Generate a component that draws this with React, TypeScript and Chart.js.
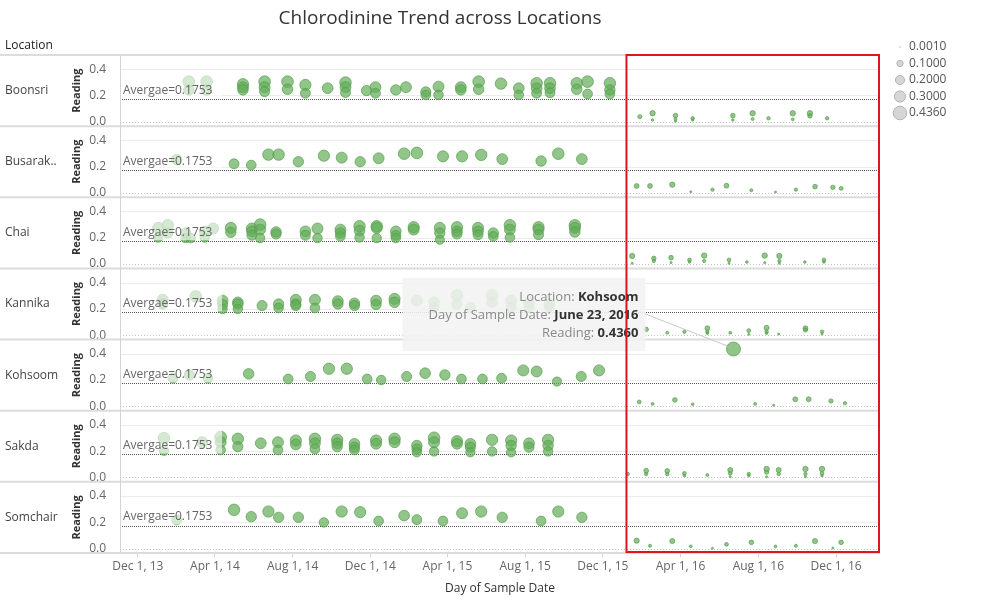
import React, { useEffect, useRef } from 'react';
import { Chart, registerables } from 'chart.js';

Chart.register(...registerables);

const FONT = "'Open Sans', 'Noto Sans', 'DejaVu Sans', sans-serif";

const chartTitle = 'Chlorodinine Trend across Locations';
const locations = ['Boonsri', 'Busarak..', 'Chai', 'Kannika', 'Kohsoom', 'Sakda', 'Somchair'];

const boonsriDates = ['2014-02-19', '2014-03-19', '2014-05-15', '2014-06-18', '2014-07-24', '2014-08-21', '2014-09-25', '2014-10-23', '2014-11-25', '2014-12-09', '2015-01-10', '2015-01-26', '2015-02-26', '2015-03-18', '2015-04-22', '2015-05-20', '2015-06-24', '2015-07-22', '2015-08-19', '2015-09-09', '2015-10-21', '2015-11-07', '2015-12-12', '2016-01-28', '2016-02-17', '2016-03-24', '2016-04-20', '2016-06-22', '2016-07-23', '2016-08-17', '2016-09-24', '2016-10-21', '2016-11-17'];
const boonsriReadings = [[0.305, 0.242], [0.305, 0.24], [0.285, 0.262, 0.242], [0.305, 0.263, 0.229], [0.305, 0.247], [0.28, 0.217], [0.255], [0.298, 0.263, 0.222], [0.237], [0.263, 0.217], [0.242], [0.263], [0.227, 0.204], [0.267, 0.204], [0.263, 0.242], [0.305, 0.247], [0.29], [0.255, 0.204], [0.293, 0.255, 0.217], [0.293, 0.255, 0.22], [0.293, 0.247], [0.305, 0.211], [0.293, 0.242, 0.211], [0.038], [0.064, 0.013], [0.046, 0.018, 0.003], [0.026, 0.013], [0.046, 0.013], [0.064, 0.02], [0.026], [0.064, 0.018], [0.064, 0.044], [0.026]];

const busarakDates = ['2014-01-31', '2014-05-01', '2014-05-28', '2014-06-24', '2014-07-10', '2014-08-10', '2014-09-19', '2014-10-17', '2014-11-15', '2014-12-14', '2015-01-23', '2015-02-12', '2015-03-25', '2015-04-24', '2015-05-24', '2015-06-26', '2015-08-26', '2015-09-22', '2015-10-29', '2016-01-23', '2016-02-13', '2016-03-19', '2016-04-17', '2016-05-21', '2016-06-12', '2016-07-21', '2016-08-28', '2016-09-29', '2016-10-29', '2016-11-26', '2016-12-09'];
const busarakReadings = [[0.253], [0.221], [0.211], [0.291], [0.291], [0.237], [0.283], [0.268], [0.237], [0.263], [0.298], [0.304], [0.278], [0.278], [0.289], [0.257], [0.242], [0.298], [0.257], [0.052], [0.052], [0.062], [0.008], [0.024], [0.054], [0.019], [0.006], [0.024], [0.047], [0.042], [0.034]];

const chaiDates = ['2014-01-02', '2014-01-17', '2014-02-14', '2014-02-22', '2014-03-16', '2014-03-29', '2014-04-26', '2014-05-29', '2014-06-11', '2014-07-06', '2014-08-21', '2014-09-09', '2014-10-15', '2014-11-14', '2014-12-11', '2015-01-10', '2015-02-07', '2015-03-20', '2015-04-16', '2015-05-19', '2015-06-12', '2015-07-08', '2015-08-22', '2015-10-18', '2016-01-16', '2016-02-19', '2016-03-17', '2016-04-15', '2016-05-08', '2016-06-16', '2016-07-14', '2016-08-11', '2016-09-03', '2016-10-13', '2016-11-12'];
const chaiReadings = [[0.275, 0.202], [0.295, 0.236], [0.236, 0.197], [0.197], [0.249, 0.202], [0.27], [0.275, 0.241], [0.27, 0.249, 0.218], [0.3, 0.262, 0.197], [0.244, 0.228], [0.249, 0.218], [0.27, 0.197], [0.262, 0.236, 0.21], [0.288, 0.254, 0.202], [0.288, 0.275, 0.197], [0.249, 0.218, 0.197], [0.28, 0.262], [0.275, 0.236, 0.184], [0.28, 0.249, 0.228], [0.275, 0.249, 0.223], [0.236, 0.21], [0.295, 0.262, 0.202], [0.28, 0.262, 0.223], [0.295, 0.275, 0.244], [0.061, 0.005], [0.043, 0.023], [0.048, 0.01], [0.031, 0.015], [0.064, 0.023], [0.031, 0.005], [0.015], [0.064, 0.01], [0.061, 0.023, 0.005], [0.015], [0.031, 0.015]];

const kannikaDates = ['2014-01-09', '2014-03-02', '2014-04-13', '2014-05-07', '2014-06-14', '2014-07-10', '2014-08-06', '2014-09-05', '2014-10-11', '2014-11-06', '2014-12-10', '2015-01-08', '2015-02-12', '2015-03-11', '2015-04-16', '2015-05-07', '2015-06-10', '2015-07-10', '2015-08-07', '2015-09-08', '2016-02-07', '2016-03-11', '2016-04-07', '2016-05-13', '2016-06-18', '2016-07-17', '2016-08-14', '2016-09-02', '2016-10-14', '2016-11-09'];
const kannikaReadings = [[0.269, 0.237], [0.295], [0.263, 0.233, 0.199], [0.25, 0.237, 0.199], [0.225], [0.237, 0.207], [0.269, 0.237, 0.225], [0.269, 0.207], [0.259, 0.237], [0.243, 0.225], [0.263, 0.233], [0.276, 0.25], [0.263], [0.25, 0.212], [0.302, 0.237], [0.212], [0.302, 0.25], [0.263, 0.212], [0.25, 0.212], [0.237, 0.212], [0.044], [0.018], [0.026], [0.052, 0.026, 0.014], [0.018], [0.034, 0.006], [0.056, 0.026, 0.014], [0.008], [0.052, 0.039], [0.026, 0.008]];

const kohsoomDates = ['2014-01-25', '2014-02-20', '2014-03-21', '2014-05-24', '2014-07-25', '2014-08-29', '2014-09-27', '2014-10-25', '2014-11-26', '2014-12-18', '2015-01-27', '2015-02-25', '2015-03-28', '2015-04-23', '2015-05-26', '2015-06-25', '2015-07-29', '2015-08-19', '2015-09-20', '2015-10-28', '2015-11-25', '2016-01-27', '2016-02-17', '2016-03-23', '2016-04-20', '2016-06-23', '2016-07-27', '2016-08-25', '2016-09-28', '2016-10-19', '2016-11-23', '2016-12-15'];
const kohsoomReadings = [[0.214], [0.239], [0.214], [0.247], [0.208], [0.227], [0.286], [0.286], [0.208], [0.2], [0.227], [0.252], [0.239], [0.208], [0.208], [0.214], [0.273], [0.265], [0.188], [0.227], [0.273], [0.033], [0.018], [0.048], [0.015], [0.436], [0.018], [0.008], [0.053], [0.053], [0.04], [0.023]];

const sakdaDates = ['2014-01-11', '2014-03-12', '2014-04-10', '2014-05-07', '2014-06-12', '2014-07-09', '2014-08-06', '2014-09-05', '2014-10-10', '2014-11-06', '2014-12-10', '2015-01-08', '2015-02-12', '2015-03-11', '2015-04-16', '2015-05-07', '2015-06-10', '2015-07-10', '2015-08-07', '2015-09-06', '2016-01-09', '2016-02-07', '2016-03-11', '2016-04-07', '2016-05-13', '2016-06-18', '2016-07-17', '2016-08-14', '2016-09-02', '2016-10-14', '2016-11-09'];
const sakdaReadings = [[0.299, 0.204], [0.268], [0.307, 0.268, 0.209], [0.294, 0.234], [0.26], [0.268, 0.209], [0.281, 0.25], [0.294, 0.26, 0.217], [0.286, 0.26, 0.234], [0.256, 0.23, 0.209], [0.281, 0.256], [0.294, 0.268], [0.243, 0.217, 0.191], [0.302, 0.268, 0.198], [0.276, 0.256], [0.256, 0.23, 0.191], [0.286, 0.198], [0.281, 0.243, 0.191], [0.26, 0.23], [0.286, 0.243, 0.198], [0.026], [0.051, 0.026], [0.049, 0.024], [0.031, 0.013], [0.018], [0.056, 0.031, 0.005], [0.026, 0.013], [0.064, 0.039, 0.005], [0.056, 0.026], [0.064, 0.026, 0.005], [0.064, 0.031, 0.013]];

const somchairDates = ['2014-01-31', '2014-05-01', '2014-05-28', '2014-06-24', '2014-07-10', '2014-08-10', '2014-09-19', '2014-10-17', '2014-11-15', '2014-12-14', '2015-01-23', '2015-02-12', '2015-03-25', '2015-04-24', '2015-05-24', '2015-06-26', '2015-08-26', '2015-09-22', '2015-10-29', '2016-01-23', '2016-02-13', '2016-03-19', '2016-04-17', '2016-05-21', '2016-06-12', '2016-07-21', '2016-08-28', '2016-09-29', '2016-10-29', '2016-11-26', '2016-12-09'];
const somchairReadings = [[0.218], [0.295], [0.243], [0.282], [0.238], [0.238], [0.199], [0.282], [0.277], [0.21], [0.251], [0.22], [0.21], [0.269], [0.282], [0.238], [0.21], [0.282], [0.238], [0.06], [0.021], [0.057], [0.017], [0.002], [0.032], [0.047], [0.017], [0.021], [0.057], [0.004], [0.047]];

const seriesDates = [boonsriDates, busarakDates, chaiDates, kannikaDates, kohsoomDates, sakdaDates, somchairDates];
const seriesReadings = [boonsriReadings, busarakReadings, chaiReadings, kannikaReadings, kohsoomReadings, sakdaReadings, somchairReadings];

const xTickDates = ['2013-12-01', '2014-04-01', '2014-08-01', '2014-12-01', '2015-04-01', '2015-08-01', '2015-12-01', '2016-04-01', '2016-08-01', '2016-12-01'];
const xTickLabels = ['Dec 1, 13', 'Apr 1, 14', 'Aug 1, 14', 'Dec 1, 14', 'Apr 1, 15', 'Aug 1, 15', 'Dec 1, 15', 'Apr 1, 16', 'Aug 1, 16', 'Dec 1, 16'];
const xRange = ['2013-11-03', '2017-02-08'];
const yTicks = [0, 0.2, 0.4];
const yRange = [-0.034, 0.508];
const averageReading = 0.1753;
const sizeLegendValues = [0.001, 0.1, 0.2, 0.3, 0.436];
const sizeLegendLabels = ['0.0010', '0.1000', '0.2000', '0.3000', '0.4360'];
const maxReading = 0.436;
const highlightStartDate = '2016-01-07';
const tooltipLocation = 'Kohsoom';
const tooltipDate = '2016-06-23';
const tooltipDateLabel = 'June 23, 2016';
const tooltipReading = 0.436;

const toDay = (s: string) => {
  const [y, m, d] = s.split('-').map(Number);
  return Date.UTC(y, m - 1, d) / 86400000;
};
const sizeFor = (v: number) => Math.max(1, 7 * Math.sqrt(Math.max(v, 0) / maxReading));

const overlayPlugin = {
  id: 'overlay',
  beforeDatasetsDraw(chart: any) {
    const { ctx, chartArea } = chart;
    ctx.save();
    locations.forEach((_, i) => {
      const ys = chart.scales['y' + i];
      ctx.setLineDash([]);
      ctx.strokeStyle = '#ececec';
      ctx.lineWidth = 1;
      [0.2, 0.4].forEach((v) => {
        const y = Math.round(ys.getPixelForValue(v)) + 0.5;
        ctx.beginPath();
        ctx.moveTo(chartArea.left, y);
        ctx.lineTo(chartArea.right, y);
        ctx.stroke();
      });
      ctx.setLineDash([1, 2]);
      ctx.strokeStyle = '#c4c4c4';
      const y0 = Math.round(ys.getPixelForValue(0)) + 0.5;
      ctx.beginPath();
      ctx.moveTo(chartArea.left, y0);
      ctx.lineTo(chartArea.right, y0);
      ctx.stroke();
      ctx.setLineDash([1, 1]);
      ctx.strokeStyle = '#555';
      const ya = Math.round(ys.getPixelForValue(averageReading)) + 0.5;
      ctx.beginPath();
      ctx.moveTo(chartArea.left, ya);
      ctx.lineTo(chartArea.right, ya);
      ctx.stroke();
    });
    ctx.restore();
  },
  afterDatasetsDraw(chart: any) {
    const { ctx, chartArea } = chart;
    const xs = chart.scales.x;
    ctx.save();
    ctx.setLineDash([]);

    locations.forEach((_, i) => {
      const ys = chart.scales['y' + i];
      const ya = ys.getPixelForValue(averageReading);
      ctx.fillStyle = 'rgba(255,255,255,0.62)';
      ctx.fillRect(chartArea.left + 1, ya - 25, 101, 24);
      ctx.fillStyle = '#666';
      ctx.font = `12px ${FONT}`;
      ctx.textAlign = 'left';
      ctx.textBaseline = 'middle';
      ctx.fillText('Avergae=' + averageReading.toFixed(4), chartArea.left + 3, ya - 8.5);
    });

    ctx.strokeStyle = '#dcdcdc';
    ctx.lineWidth = 2;
    locations.forEach((_, i) => {
      const ys = chart.scales['y' + i];
      ctx.beginPath();
      ctx.moveTo(0, ys.top);
      ctx.lineTo(chartArea.right, ys.top);
      ctx.stroke();
    });
    ctx.beginPath();
    ctx.moveTo(0, chartArea.bottom);
    ctx.lineTo(chartArea.right, chartArea.bottom);
    ctx.stroke();
    ctx.lineWidth = 1;
    ctx.strokeStyle = '#d4d4d4';
    ctx.beginPath();
    ctx.moveTo(chartArea.left + 0.5, chartArea.top);
    ctx.lineTo(chartArea.left + 0.5, chartArea.bottom);
    ctx.stroke();

    ctx.fillStyle = '#444';
    ctx.font = `12px ${FONT}`;
    ctx.textAlign = 'left';
    ctx.textBaseline = 'middle';
    locations.forEach((loc, i) => {
      const ys = chart.scales['y' + i];
      ctx.fillText(loc, 5, (ys.top + ys.bottom) / 2);
    });
    ctx.fillStyle = '#222';
    ctx.font = `12px ${FONT}`;
    ctx.fillText('Location', 5, 46);

    ctx.fillStyle = '#333';
    ctx.font = `19px ${FONT}`;
    ctx.textAlign = 'center';
    ctx.fillText(chartTitle, 440, 19);

    ctx.textAlign = 'left';
    ctx.font = `12px ${FONT}`;
    sizeLegendValues.forEach((v, i) => {
      const cy = 47 + i * 16.5;
      ctx.beginPath();
      ctx.arc(900, cy, Math.max(1, sizeFor(v) - 0.2), 0, Math.PI * 2);
      ctx.fillStyle = '#d6d6d6';
      ctx.fill();
      ctx.strokeStyle = '#b2b2b2';
      ctx.lineWidth = 1;
      if (v > 0.01) ctx.stroke();
      ctx.fillStyle = '#555';
      ctx.fillText(sizeLegendLabels[i], 909, cy);
    });

    const ti = locations.indexOf(tooltipLocation);
    const tys = chart.scales['y' + ti];
    const px = xs.getPixelForValue(toDay(tooltipDate));
    const py = tys.getPixelForValue(tooltipReading);
    const bx = px - 331;
    const by = py - 71;
    const bw = 243;
    const bh = 73;
    ctx.fillStyle = 'rgba(243,243,243,0.88)';
    ctx.fillRect(bx, by, bw, bh);
    ctx.strokeStyle = '#c9c9c9';
    ctx.lineWidth = 1;
    ctx.beginPath();
    ctx.moveTo(bx + bw, py - 35);
    ctx.lineTo(px - 6, py - 3);
    ctx.stroke();
    const lines = [
      ['Location: ', tooltipLocation],
      ['Day of Sample Date: ', tooltipDateLabel],
      ['Reading: ', tooltipReading.toFixed(4)],
    ];
    const rx = bx + bw - 7;
    ctx.textBaseline = 'middle';
    lines.forEach(([label, value], k) => {
      const ty = by + 19 + k * 18;
      ctx.font = `bold 13px ${FONT}`;
      ctx.textAlign = 'right';
      ctx.fillStyle = '#333';
      ctx.fillText(value, rx, ty);
      const vw = ctx.measureText(value).width;
      ctx.font = `13px ${FONT}`;
      ctx.fillStyle = '#8a8a8a';
      ctx.fillText(label, rx - vw, ty);
    });

    const hx = xs.getPixelForValue(toDay(highlightStartDate));
    ctx.strokeStyle = '#e3131b';
    ctx.lineWidth = 2;
    ctx.strokeRect(hx, chartArea.top, chartArea.right - 1 - hx, chartArea.bottom - chartArea.top - 1);
    ctx.restore();
  },
};

export default function App() {
  const ref = useRef<HTMLCanvasElement>(null);
  useEffect(() => {
    document.body.style.margin = '0';
    const datasets = locations.map((loc, i) => ({
      type: 'scatter' as const,
      label: loc,
      xAxisID: 'x',
      yAxisID: 'y' + i,
      data: seriesDates[i].flatMap((d, j) => (seriesReadings[i][j] || []).map((r) => ({ x: toDay(d), y: r }))),
      pointRadius: (c: any) => sizeFor(c.raw ? c.raw.y : 0),
      pointHoverRadius: (c: any) => sizeFor(c.raw ? c.raw.y : 0),
      pointBackgroundColor: 'rgba(98,172,88,0.7)',
      pointBorderColor: 'rgba(86,158,76,0.7)',
      pointBorderWidth: 1,
      showLine: false,
      clip: false as any,
    }));

    const scales: any = {
      x: {
        type: 'linear',
        position: 'bottom',
        min: toDay(xRange[0]),
        max: toDay(xRange[1]),
        afterBuildTicks: (s: any) => {
          s.ticks = xTickDates.map((d) => ({ value: toDay(d) }));
        },
        afterFit: (s: any) => {
          s.height = 50;
        },
        grid: { display: true, drawOnChartArea: false, drawTicks: true, tickLength: 4, color: '#d0d0d0' },
        border: { display: false },
        ticks: {
          autoSkip: false,
          maxRotation: 0,
          padding: 2,
          color: '#666',
          font: { family: FONT, size: 12 },
          callback: (_v: any, i: number) => xTickLabels[i],
        },
        title: {
          display: true,
          text: 'Day of Sample Date',
          color: '#333',
          font: { family: FONT, size: 12 },
          padding: { top: 0, bottom: 7 },
        },
      },
    };
    locations.forEach((_, i) => {
      scales['y' + i] = {
        type: 'linear',
        position: 'left',
        stack: 'locations',
        stackWeight: 1,
        weight: locations.length - i,
        min: yRange[0],
        max: yRange[1],
        afterBuildTicks: (s: any) => {
          s.ticks = yTicks.map((v) => ({ value: v }));
        },
        afterFit: (s: any) => {
          s.width = 56;
        },
        grid: { display: false },
        border: { display: false },
        ticks: {
          padding: 6,
          color: '#666',
          font: { family: FONT, size: 12 },
          callback: (v: any) => Number(v).toFixed(1),
        },
        title: {
          display: true,
          text: 'Reading',
          color: '#333',
          font: { family: FONT, size: 11, weight: 'bold' },
          padding: { top: 6, bottom: 0 },
        },
      };
    });

    const chart = new Chart(ref.current as HTMLCanvasElement, {
      type: 'scatter',
      data: { datasets: datasets as any },
      options: {
        animation: false,
        responsive: false,
        devicePixelRatio: 1,
        events: [],
        layout: { padding: { left: 64, right: 120, top: 55, bottom: 0 } },
        plugins: { legend: { display: false }, tooltip: { enabled: false }, title: { display: false } },
        scales,
      } as any,
      plugins: [overlayPlugin],
    });
    return () => chart.destroy();
  }, []);

  return (
    <div style={{ width: 1000, height: 603, position: 'relative', background: '#fff' }}>
      <canvas ref={ref} width={1000} height={603} style={{ display: 'block', width: 1000, height: 603 }} />
    </div>
  );
}
